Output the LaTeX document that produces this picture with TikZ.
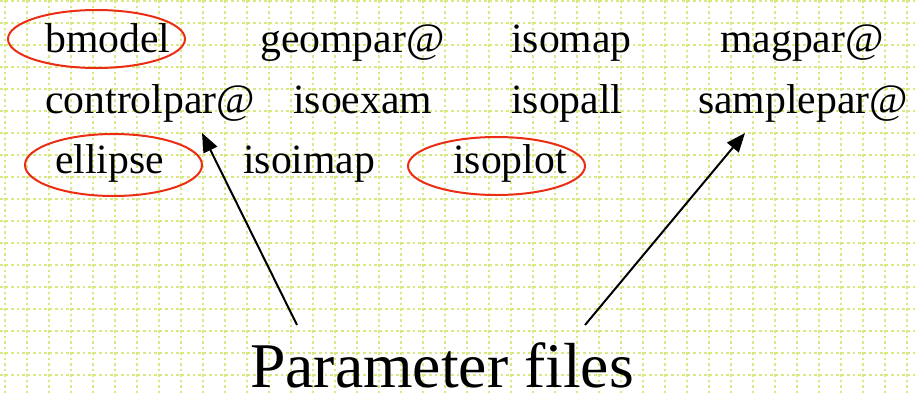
\documentclass[tikz,border=0pt]{standalone}
\usepackage{fontspec}
\setmainfont{Liberation Serif}
\newfontfamily\timesf{Liberation Serif}
\usetikzlibrary{shapes.geometric,arrows.meta}
\definecolor{gridc}{RGB}{216,232,130}
\definecolor{ovalred}{RGB}{235,45,20}
\tikzset{
  lbl/.style={anchor=base west,inner sep=0pt,font=\timesf\fontsize{41.7}{50}\selectfont},
  oval/.style={ellipse,draw=ovalred,line width=2pt,minimum width=177pt,inner sep=0pt},
  gridline/.style={draw=gridc,line width=2.7pt,dash pattern=on 2.7pt off 2.8pt},
  pointer/.style={draw=black,line width=2pt,-{Triangle[length=19pt,width=15pt]}}
}
\begin{document}
\begin{tikzpicture}[x=1pt,y=-1pt]
\useasboundingbox (0,0) rectangle (915,394);
\fill[white] (0,0) rectangle (915,394);
\foreach \k in {0,...,41} {\path[gridline] (5+22*\k,0) -- (5+22*\k,394);}
\foreach \k in {0,...,17} {\path[gridline] (0,1+22*\k) -- (915,1+22*\k);}
% ovals
\node[oval,minimum height=58pt] (ovA) at (96.5,39) {};
\node[oval,minimum height=62pt] (ovB) at (113.5,165) {};
\node[oval,minimum height=58pt] (ovC) at (496.5,166) {};
% row 1
\node[lbl] (bmodel) at (45,52) {bmodel};
\node[lbl] (geompar) at (260,52) {geompar@};
\node[lbl] (isomap) at (511,52) {isomap};
\node[lbl] (magpar) at (720,52) {magpar@};
% row 2
\node[lbl] (controlpar) at (45,113) {controlpar@};
\node[lbl] (isoexam) at (293,113) {isoexam};
\node[lbl] (isopall) at (511,113) {isopall};
\node[lbl] (samplepar) at (698,113) {samplepar@};
% row 3
\node[lbl] (ellipse) at (55,173) {ellipse};
\node[lbl] (isoimap) at (243,173) {isoimap};
\node[lbl] (isoplot) at (453,173) {isoplot};
% caption
\node[anchor=base west,inner sep=0pt,font=\timesf\fontsize{63.7}{70}\selectfont] (pfiles) at (250,387) {Parameter files};
\coordinate (tailA) at (297,325);
\coordinate (tipA) at (202,133);
\coordinate (tailB) at (585,325);
\coordinate (tipB) at (745,133);
\draw[pointer] (tailA) -- (tipA);
\draw[pointer] (tailB) -- (tipB);
\end{tikzpicture}
\end{document}
